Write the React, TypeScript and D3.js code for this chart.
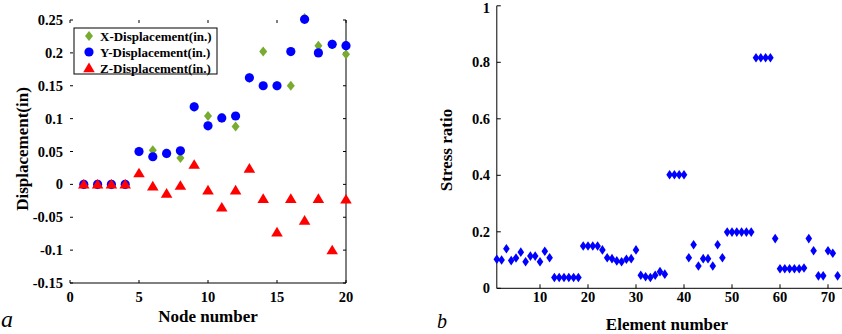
import React from 'react';
import * as d3 from 'd3';

// Panel a: nodal displacements
const nodes = [1, 2, 3, 4, 5, 6, 7, 8, 9, 10, 11, 12, 13, 14, 15, 16, 17, 18, 19, 20];
const xDisp = [0, 0, 0, 0, 0.05, 0.052, 0.047, 0.04, 0.118, 0.104, 0.101, 0.088, 0.162, 0.202, 0.15, 0.15, 0.253, 0.211, 0.213, 0.198];
const yDisp = [0, 0, 0, 0, 0.05, 0.042, 0.047, 0.051, 0.118, 0.089, 0.101, 0.104, 0.162, 0.15, 0.15, 0.202, 0.251, 0.2, 0.213, 0.211];
const zDisp = [0, 0, 0, 0, 0.017, -0.003, -0.014, -0.002, 0.03, -0.009, -0.035, -0.009, 0.024, -0.022, -0.073, -0.022, -0.055, -0.022, -0.1, -0.023];
const dispTicksY = [-0.15, -0.1, -0.05, 0, 0.05, 0.1, 0.15, 0.2, 0.25];
const dispTicksX = [0, 5, 10, 15, 20];
const legendLabels = ['X-Displacement(in.)', 'Y-Displacement(in.)', 'Z-Displacement(in.)'];

// Panel b: stress ratio per element
const stressRatio = [
  0.103, 0.1, 0.14, 0.098, 0.107, 0.128, 0.094, 0.114, 0.114, 0.094,
  0.131, 0.108, 0.038, 0.038, 0.038, 0.038, 0.038, 0.038, 0.15, 0.15,
  0.15, 0.15, 0.136, 0.108, 0.105, 0.097, 0.094, 0.103, 0.105, 0.136,
  0.046, 0.041, 0.038, 0.046, 0.059, 0.05, 0.402, 0.402, 0.402, 0.402,
  0.108, 0.154, 0.079, 0.105, 0.105, 0.079, 0.154, 0.108, 0.199, 0.199,
  0.199, 0.199, 0.199, 0.199, 0.816, 0.816, 0.816, 0.816, 0.176, 0.069,
  0.069, 0.069, 0.069, 0.069, 0.072, 0.176, 0.133, 0.044, 0.044, 0.133,
  0.124, 0.044,
];
const stressTicksY = [0, 0.2, 0.4, 0.6, 0.8, 1];
const stressTicksX = [10, 20, 30, 40, 50, 60, 70];

const FONT = '"Liberation Serif", "Times New Roman", serif';
const GREEN = '#77AC30';
const BLUE = '#0000FF';
const RED = '#FF0000';
const TICK_FS = 14.5;

const diamond = (hw: number, hh: number) => `M0,${-hh}L${hw},0L0,${hh}L${-hw},0Z`;
const triangle = (s: number) => `M0,${-s}L${s * 1.05},${s * 0.75}L${-s * 1.05},${s * 0.75}Z`;

function DisplacementPanel() {
  const x = d3.scaleLinear().domain([0, 20]).range([70, 346]);
  const y = d3.scaleLinear().domain([-0.15, 0.25]).range([283, 20]);
  const [x0, x1] = x.range();
  const [y0, y1] = y.range();
  const tk = 3;
  const fmt = (v: number) => (Math.abs(v) < 1e-9 ? '0' : String(+v.toFixed(2)));

  return (
    <g>
      {/* frame: only bottom and right edges show */}
      <line x1={x0} x2={x1} y1={y0} y2={y0} stroke="#000" strokeWidth={1} />
      <line x1={x1} x2={x1} y1={y1} y2={y0} stroke="#000" strokeWidth={1} />
      {dispTicksY.map((t) => (
        <g key={'y' + t}>
          <line x1={x0} x2={x0 + tk} y1={y(t)} y2={y(t)} stroke="#000" />
          <line x1={x1 - tk} x2={x1} y1={y(t)} y2={y(t)} stroke="#000" />
          <text x={x0 - 7} y={y(t)} dy="0.35em" textAnchor="end" fontSize={TICK_FS} fontWeight="bold">
            {fmt(t)}
          </text>
        </g>
      ))}
      {dispTicksX.map((t) => (
        <g key={'x' + t}>
          <line x1={x(t)} x2={x(t)} y1={y0} y2={y0 - tk} stroke="#000" />
          <line x1={x(t)} x2={x(t)} y1={y1} y2={y1 + tk} stroke="#000" />
          <text x={x(t)} y={302} textAnchor="middle" fontSize={TICK_FS} fontWeight="bold">
            {t}
          </text>
        </g>
      ))}
      <text x={208} y={322} textAnchor="middle" fontSize={17} fontWeight="bold">
        Node number
      </text>
      <text transform="translate(28,149) rotate(-90)" textAnchor="middle" fontSize={17} fontWeight="bold">
        Displacement(in)
      </text>
      <text x={1} y={327} fontSize={24} fontStyle="italic">
        a
      </text>

      {nodes.map((n, i) => (
        <path key={'gx' + n} d={diamond(4, 5)} transform={`translate(${x(n)},${y(xDisp[i])})`} fill={GREEN} />
      ))}
      {nodes.map((n, i) => (
        <circle key={'by' + n} cx={x(n)} cy={y(yDisp[i])} r={4.6} fill={BLUE} />
      ))}
      {nodes.map((n, i) => (
        <path key={'rz' + n} d={triangle(5.5)} transform={`translate(${x(n)},${y(zDisp[i])})`} fill={RED} />
      ))}

      {/* legend */}
      <rect x={74} y={28} width={143} height={46} fill="#fff" stroke="#000" strokeWidth={1} />
      {legendLabels.map((label, i) => {
        const ly = 36 + i * 16;
        return (
          <g key={label}>
            {i === 0 && <path d={diamond(4, 5)} transform={`translate(89,${ly})`} fill={GREEN} />}
            {i === 1 && <circle cx={89} cy={ly} r={4.6} fill={BLUE} />}
            {i === 2 && <path d={triangle(5.5)} transform={`translate(89,${ly})`} fill={RED} />}
            <text x={100} y={ly} dy="0.35em" fontSize={13} fontWeight="bold">
              {label}
            </text>
          </g>
        );
      })}
    </g>
  );
}

function StressPanel() {
  const x = d3.scaleLinear().domain([1, 72]).range([496.8, 837.6]);
  const y = d3.scaleLinear().domain([0, 1]).range([288.3, 5.8]);
  const [x0] = x.range();
  const [y0, y1] = y.range();
  const tk = 4;

  return (
    <g>
      <line x1={x0} x2={x0} y1={y1} y2={y0} stroke="#000" strokeWidth={1} />
      <line x1={x0} x2={842} y1={y0} y2={y0} stroke="#000" strokeWidth={1} />
      {stressTicksY.map((t) => (
        <g key={'y' + t}>
          <line x1={x0} x2={x0 + tk} y1={y(t)} y2={y(t)} stroke="#000" />
          {/* keep the top label inside the page */}
          <text x={490} y={Math.max(y(t), 8)} dy="0.35em" textAnchor="end" fontSize={TICK_FS} fontWeight="bold">
            {t}
          </text>
        </g>
      ))}
      {stressTicksX.map((t) => (
        <g key={'x' + t}>
          <line x1={x(t)} x2={x(t)} y1={y0} y2={y0 - tk} stroke="#000" />
          <text x={x(t)} y={302} textAnchor="middle" fontSize={TICK_FS} fontWeight="bold">
            {t}
          </text>
        </g>
      ))}
      <text x={667} y={330} textAnchor="middle" fontSize={17} fontWeight="bold">
        Element number
      </text>
      <text transform="translate(452,150) rotate(-90)" textAnchor="middle" fontSize={17} fontWeight="bold">
        Stress ratio
      </text>
      <text x={437} y={328} fontSize={20} fontStyle="italic">
        b
      </text>
      {stressRatio.map((v, i) => (
        <path key={i} d={diamond(3.3, 4.8)} transform={`translate(${x(i + 1)},${y(v)})`} fill={BLUE} />
      ))}
    </g>
  );
}

export default function App() {
  return (
    <svg
      width={842}
      height={334}
      style={{ position: 'absolute', left: 0, top: 0, background: '#fff', fontFamily: FONT }}
    >
      <DisplacementPanel />
      <StressPanel />
    </svg>
  );
}
